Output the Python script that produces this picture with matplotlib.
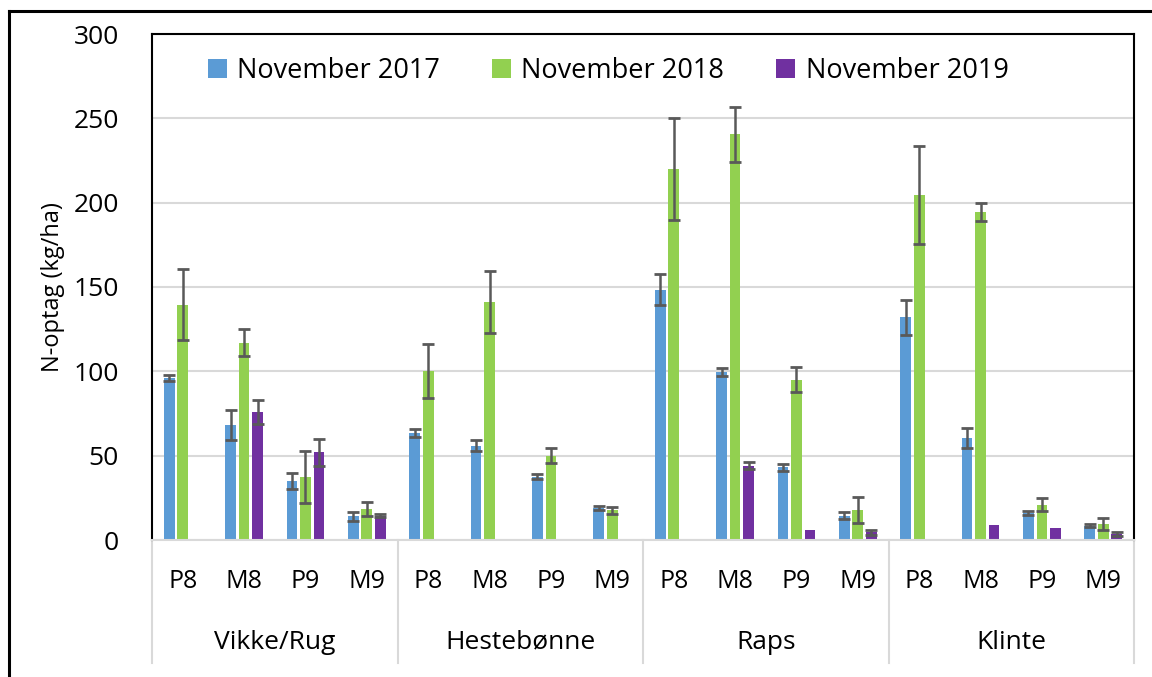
import numpy as np
import matplotlib.pyplot as plt
from matplotlib.lines import Line2D

plt.rcParams['font.family'] = ['Open Sans', 'DejaVu Sans']

groups = ['Vikke/Rug', 'Hestebønne', 'Raps', 'Klinte']
treatments = ['P8', 'M8', 'P9', 'M9']
series = ['November 2017', 'November 2018', 'November 2019']
colors = ['#5B9BD5', '#92D050', '#7030A0']

# values in kg N/ha (nan = no bar)
nov2017 = [96, 68, 35, 14, 63.5, 56, 37.5, 19, 148.5, 99.5, 43, 14.5, 132, 60.5, 16, 8.5]
nov2018 = [139.5, 117, 37.5, 18.5, 100, 141, 50, 17.5, 220, 240.5, 95, 17.5, 204.5, 194.5, 21, 9.5]
nov2019 = [np.nan, 76, 52, 14.5, np.nan, np.nan, np.nan, np.nan, np.nan, 44, 6, 4.5, np.nan, 9, 7, 3.5]

err2017 = [2, 9, 5, 2.5, 2.5, 3, 1.5, 1.2, 9, 2.5, 2, 2, 10.5, 5.7, 1, 1]
err2018 = [21, 8, 15.3, 4, 16, 18.5, 4.5, 2, 30, 16.5, 7.5, 7.7, 29, 5.3, 4, 3.3]
err2019 = [np.nan, 7, 8, 1, np.nan, np.nan, np.nan, np.nan, np.nan, 2, np.nan, 1.5, np.nan, np.nan, np.nan, 1]

values = [nov2017, nov2018, nov2019]
errors = [err2017, err2018, err2019]

fig = plt.figure(figsize=(11.52, 6.77), dpi=100)
ax = fig.add_axes([152 / 1152, 1 - 540 / 677, (1134 - 152) / 1152, (540 - 34) / 677])

x = np.arange(len(nov2017))
offsets = [-0.22, 0.0, 0.22]
width = 0.175
for vals, errs, off, col, lab in zip(values, errors, offsets, colors, series):
    ax.bar(x + off, vals, width, color=col, label=lab, zorder=2)
    ax.errorbar(x + off, vals, yerr=errs, fmt='none', ecolor='#595959',
                elinewidth=1.8, capsize=4, capthick=2, zorder=3)

ax.set_xlim(-0.5, len(x) - 0.5)
ax.set_ylim(0, 300)
ax.set_yticks(np.arange(0, 301, 50))
ax.tick_params(axis='y', length=0, labelsize=19, pad=24)
ax.set_ylabel('N-optag (kg/ha)', fontsize=17, labelpad=6)
ax.yaxis.grid(True, color='#d9d9d9', linewidth=1.5, zorder=0)
ax.set_axisbelow(True)

for s in ['left', 'top', 'right']:
    ax.spines[s].set_color('black')
    ax.spines[s].set_linewidth(1.5)
ax.spines['bottom'].set_color('#d9d9d9')
ax.spines['bottom'].set_linewidth(1.5)
ax.spines['bottom'].set_zorder(4)

# two-level category axis
ax.set_xticks([])
trans = ax.get_xaxis_transform()
for i in x:
    ax.text(i, -0.083, treatments[i % 4], transform=trans, ha='center', va='center', fontsize=18)
for g, name in enumerate(groups):
    ax.text(g * 4 + 1.5, -0.2016, name, transform=trans, ha='center', va='center', fontsize=19)
for b in np.arange(-0.5, len(x), 4):
    ax.plot([b, b], [0, -0.243], transform=trans, color='#d9d9d9', lw=1.5, clip_on=False)

ax.legend(loc='center', bbox_to_anchor=(608 / 1152, 1 - 71 / 677), bbox_transform=fig.transFigure,
          ncol=3, frameon=False, fontsize=19.5, handlelength=0.7, handleheight=0.7,
          handletextpad=0.4, columnspacing=1.9)

# chart area border (left and top edge only visible)
fig.add_artist(Line2D([9 / 1152, 9 / 1152], [0, 1 - 11 / 677], color='black', lw=2.2))
fig.add_artist(Line2D([9 / 1152, 1], [1 - 11 / 677, 1 - 11 / 677], color='black', lw=2.2))

fig.savefig('out.png', dpi=100)
